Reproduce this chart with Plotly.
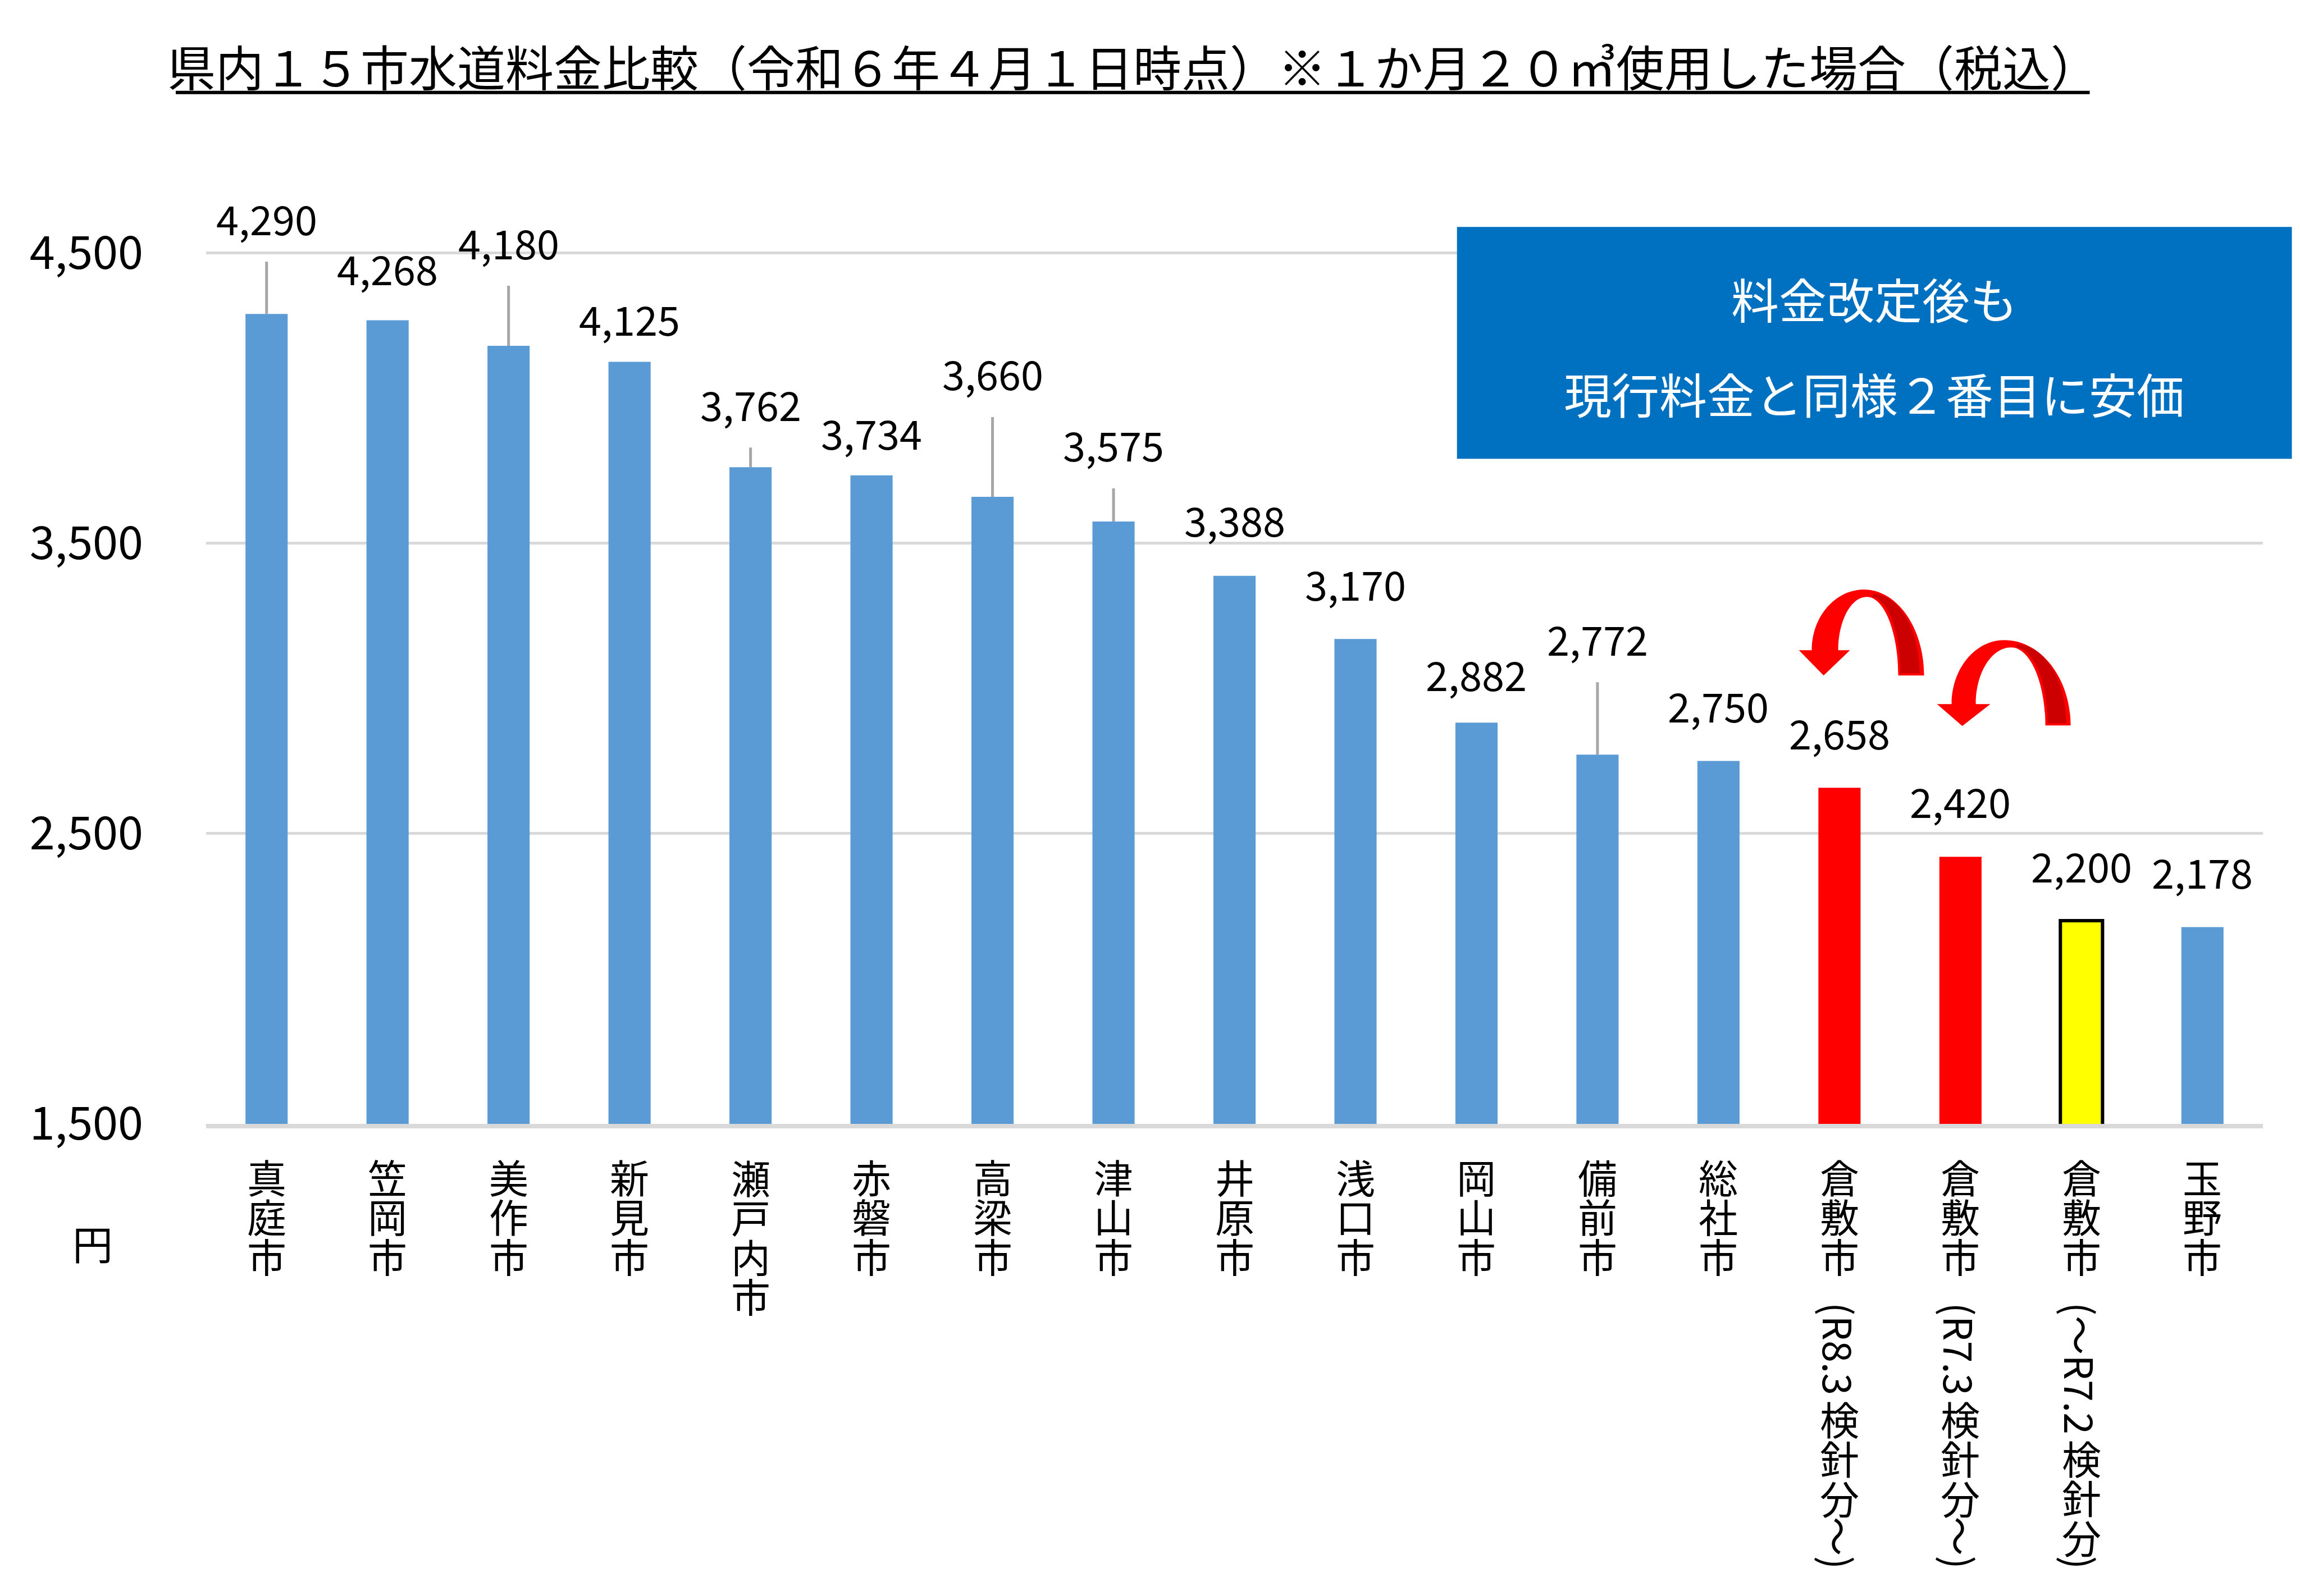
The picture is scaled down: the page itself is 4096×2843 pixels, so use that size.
import plotly.graph_objects as go

# ---------------- data ----------------
categories = ["真庭市", "笠岡市", "美作市", "新見市", "瀬戸内市", "赤磐市", "高梁市",
              "津山市", "井原市", "浅口市", "岡山市", "備前市", "総社市",
              "倉敷市(R8.3検針分～)", "倉敷市(R7.3検針分～)", "倉敷市(～R7.2検針分)", "玉野市"]
values = [4290, 4268, 4180, 4125, 3762, 3734, 3660, 3575, 3388, 3170,
          2882, 2772, 2750, 2658, 2420, 2200, 2178]
y_ticks = [1500, 2500, 3500, 4500]
title_text = "県内１５市水道料金比較（令和６年４月１日時点）※１か月２０㎥使用した場合（税込）"
unit_text = "円"
callout_lines = ["料金改定後も", "現行料金と同様２番目に安価"]

# ---------------- style ----------------
FONT = "Noto Sans CJK JP"
FIG_W, FIG_H = 4096, 2843
SHIFT = -8  # global vertical shift of the whole layout (px)
PL, PR, PT, PB = 359.0, 4022.5, 191.7, 2001.9
PW, PH = PR - PL, PB - PT
Y_RANGE = [1500, 5000]

BLUE, RED, YELLOW = "#5b9bd5", "#ff0000", "#ffff00"
bar_colors = [BLUE] * 13 + [RED, RED, YELLOW, BLUE]
bar_line_widths = [0] * 15 + [6, 0]
label_shift = [167, 89, 181, 73, 109, 72, 216, 133, 96, 95, 83, 203, 95, 95, 96, 95, 95]
LABEL_DY = 5
LEADER_GAP, LEADER_MIN = 74, 100
GRID = "#d9d9d9"

LABEL_FONT = 72
TICK_FONT = 81
XL_FONT = 70
XL_TOP, XL_PITCH, XL_PAREN_GAP = 2060.6, 70.4, 41.5
LINE_SPACING = 1.3  # plotly's line height in em


def fx(px):
    return (px - PL) / PW


def fy(py):
    return (PB - py) / PH


def ypx(v):
    return PB - (v - Y_RANGE[0]) / (Y_RANGE[1] - Y_RANGE[0]) * PH


fig = go.Figure(go.Bar(
    x=categories, y=values,
    marker=dict(color=bar_colors, line=dict(color="#000000", width=bar_line_widths)),
    hoverinfo="skip",
))

annotations = []
shapes = []

# data labels + leader lines
for i, (c, v, s) in enumerate(zip(categories, values, label_shift)):
    annotations.append(dict(x=c, y=v, xref="x", yref="y", text=f"{v:,}", yshift=s + LABEL_DY,
                            showarrow=False, xanchor="center", yanchor="middle",
                            font=dict(family=FONT, size=LABEL_FONT, color="#000000")))
    if s > LEADER_MIN:
        shapes.append(dict(type="line", xref="x", yref="y", ysizemode="pixel", yanchor=v,
                           x0=i, x1=i, y0=0, y1=s - LEADER_GAP,
                           line=dict(color="#a6a6a6", width=5), layer="above"))


# vertical category labels: upright CJK stacks + rotated latin runs
def split_runs(name):
    out = []
    for ch in name:
        rot = ord(ch) < 128 or ch in "～（）"
        if out and out[-1][1] == rot:
            out[-1] = (out[-1][0] + ch, rot)
        else:
            out.append((ch, rot))
    return out


def run_len(s):
    return sum(0.3 if ch in "().（）" else (1.0 if ch == "～" else 0.65) for ch in s) * XL_FONT


for c in categories:
    cur = XL_TOP
    for txt, rot in split_runs(c):
        if rot:
            if txt[0] in "(（":
                cur += XL_PAREN_GAP
            L = run_len(txt)
            center = cur + L / 2
            cur += L
            annotations.append(dict(x=c, y=0, xref="x", yref="paper", text=txt,
                                    yshift=PB - center, textangle=90,
                                    showarrow=False, xanchor="center", yanchor="middle",
                                    font=dict(family=FONT, size=XL_FONT, color="#000000")))
        else:
            n = len(txt)
            center = cur + n * XL_PITCH / 2
            cur += n * XL_PITCH
            stacked = "<br>".join(f"<span style='font-size:{XL_FONT}px'>{ch}</span>" for ch in txt)
            annotations.append(dict(x=c, y=0, xref="x", yref="paper", text=stacked,
                                    yshift=PB - center, showarrow=False,
                                    xanchor="center", yanchor="middle", align="center",
                                    font=dict(family=FONT, size=XL_PITCH / LINE_SPACING,
                                              color="#000000")))

# unit label
annotations.append(dict(x=fx(157), y=0, xref="paper", yref="paper", text=unit_text,
                        yshift=PB - (XL_TOP + 2.15 * XL_PITCH), showarrow=False,
                        xanchor="center", yanchor="middle",
                        font=dict(family=FONT, size=72, color="#000000")))

# callout box
shapes.append(dict(type="rect", xref="paper", yref="paper",
                   x0=fx(2587), x1=fx(4074), y0=fy(817), y1=fy(404),
                   fillcolor="#0070c0", line=dict(width=0), layer="above"))
for txt, py in zip(callout_lines, [530, 699]):
    annotations.append(dict(x=fx(3330), y=fy(py), xref="paper", yref="paper", text=txt,
                            showarrow=False, xanchor="center", yanchor="middle",
                            font=dict(family=FONT, size=85, color="#ffffff")))

# title underline
shapes.append(dict(type="line", xref="paper", yref="paper",
                   x0=fx(305), x1=fx(3714), y0=fy(164.4), y1=fy(164.4),
                   line=dict(color="#000000", width=6), layer="above"))

# white covers hiding gridline parts behind data-label boxes
for x0, x1, gv, top, bot in [(PL, 1013, 4500, 6, 6), (2075.6, 2303.8, 3500, 6, 6),
                             (2303.8, 2519, 3500, -1.5, 6), (3368.6, PR, 2500, 6, 6)]:
    g = ypx(gv)
    shapes.append(dict(type="rect", xref="paper", yref="paper",
                       x0=fx(x0), x1=fx(x1), y0=fy(g + bot), y1=fy(g - top),
                       fillcolor="#ffffff", line=dict(width=0), layer="between"))


# curved red arrows
def pt(x, y):
    return f"{fx(x):.5f},{fy(y):.5f}"


arrows = [
    dict(OL=3219, IL=3266, HL=3196, HR=3287, HB=1158, TIPX=3240, TIPY=1203,
         TXo=3312, TYo=1050, TXi=3317, TYi=1063, OR=3419, IR=3373, RB=1203),
    dict(OL=3468, IL=3511, HL=3442, HR=3537, HB=1254, TIPX=3487, TIPY=1293,
         TXo=3562, TYo=1140, TXi=3574, TYi=1153, OR=3680, IR=3635, RB=1292),
]
k = 0.5523
for a in arrows:
    OL, IL, HL, HR, HB = a["OL"], a["IL"], a["HL"], a["HR"], a["HB"]
    TIPX, TIPY = a["TIPX"], a["TIPY"]
    TXo, TYo, TXi, TYi = a["TXo"], a["TYo"], a["TXi"], a["TYi"]
    OR, IR, RB = a["OR"], a["IR"], a["RB"]
    outer = (f"M{pt(OL, HB)} "
             f"C{pt(OL, HB - k * (HB - TYo))} {pt(TXo - k * (TXo - OL), TYo)} {pt(TXo, TYo)} "
             f"C{pt(TXo + k * (OR - TXo), TYo)} {pt(OR, RB - k * (RB - TYo))} {pt(OR, RB)} "
             f"L{pt(IR, RB)} "
             f"C{pt(IR, RB - k * (RB - TYi))} {pt(TXi + k * (IR - TXi), TYi)} {pt(TXi, TYi)} "
             f"C{pt(TXi - k * (TXi - IL), TYi)} {pt(IL, HB - k * (HB - TYi))} {pt(IL, HB)} "
             f"L{pt(HR, HB)} L{pt(TIPX, TIPY)} L{pt(HL, HB)} Z")
    shapes.append(dict(type="path", xref="paper", yref="paper", path=outer,
                       fillcolor=RED, line=dict(width=0), layer="above"))
    Ax, Ay = TXi + 10, (TYo + TYi) / 2 + 1
    Bx, By = OR - 8, RB - 4
    Cx, Cy = IR + 4, RB - 4
    dark = (f"M{pt(Ax, Ay)} "
            f"C{pt(Ax + k * (Bx - Ax), Ay)} {pt(Bx, By - k * (By - Ay))} {pt(Bx, By)} "
            f"L{pt(Cx, Cy)} "
            f"C{pt(Cx, Cy - k * (Cy - Ay - 8))} {pt(Ax + k * (Cx - Ax), Ay + 8)} {pt(Ax, Ay + 6)} Z")
    shapes.append(dict(type="path", xref="paper", yref="paper", path=dark,
                       fillcolor="#cc0000", line=dict(width=0), layer="above"))

fig.update_layout(
    width=FIG_W, height=FIG_H, autosize=False,
    margin=dict(l=PL, r=FIG_W - PR, t=PT + SHIFT, b=FIG_H - (PB + SHIFT), pad=0),
    paper_bgcolor="#ffffff", plot_bgcolor="#ffffff",
    showlegend=False, hovermode=False,
    bargap=0.6514,
    title=dict(text=title_text, x=2010 / FIG_W, xanchor="center", xref="container",
               y=1 - (124 + SHIFT) / FIG_H, yanchor="middle", yref="container",
               font=dict(family=FONT, size=86, color="#000000")),
    xaxis=dict(type="category", range=[-0.5, len(categories) - 0.5], showticklabels=False,
               showgrid=False, zeroline=False, showline=True, linecolor=GRID, linewidth=8,
               ticks=""),
    yaxis=dict(range=Y_RANGE, tickvals=y_ticks, tickformat=",d", showgrid=True,
               gridcolor=GRID, gridwidth=5, zeroline=False, showline=False, ticks="",
               ticklabelstandoff=111,
               tickfont=dict(family=FONT, size=TICK_FONT, color="#000000")),
    annotations=annotations,
    shapes=shapes,
    font=dict(family=FONT),
)

fig.write_html("out.html")
